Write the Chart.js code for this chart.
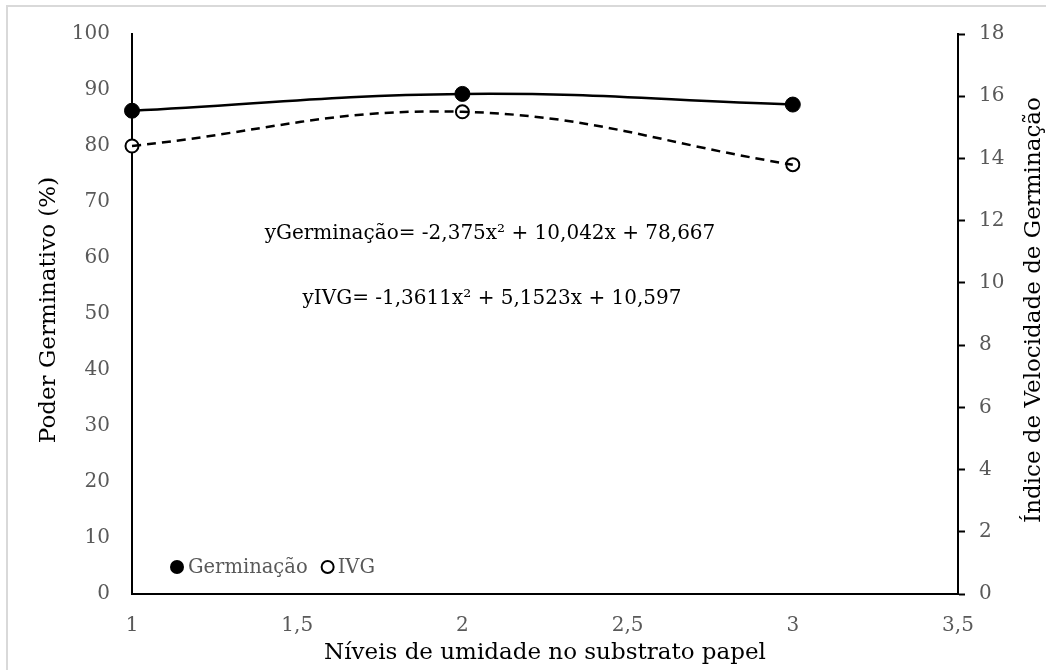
<!DOCTYPE html>
<html><head><meta charset="utf-8">
<script src="https://cdn.jsdelivr.net/npm/chart.js@4.4.1/dist/chart.umd.min.js"></script>
<style>html,body{margin:0;padding:0;background:#fff}#wrap{width:1046px;height:670px}</style>
</head><body><div id="wrap"><canvas id="c" width="1046" height="670"></canvas></div>
<script>
// ---- data ----
const levels = [1, 2, 3];
const germinacao = [86.3, 89.3, 87.4];
const ivg = [14.4, 15.5, 13.8];
const xTickValues = [1, 1.5, 2, 2.5, 3, 3.5];
const xTickLabels = ['1', '1,5', '2', '2,5', '3', '3,5'];
const seriesNames = ['Germinação', 'IVG'];
const xTitle = 'Níveis de umidade no substrato papel';
const yLeftTitle = 'Poder Germinativo (%)';
const yRightTitle = 'Índice de Velocidade de Germinação';
const equations = ['yGerminação= -2,375x² + 10,042x + 78,667', 'yIVG= -1,3611x² + 5,1523x + 10,597'];

const FONT = '"DejaVu Serif", "Liberation Serif", serif';
Chart.defaults.font.family = FONT;

const pts = (ys) => levels.map((x, i) => ({x: x, y: ys[i]}));

const deco = {
  id: 'deco',
  beforeDraw(chart) {
    const ctx = chart.ctx;
    ctx.save();
    ctx.fillStyle = '#fff';
    ctx.fillRect(0, 0, chart.width, chart.height);
    ctx.strokeStyle = '#d9d9d9';
    ctx.lineWidth = 2;
    ctx.strokeRect(7, 6, chart.width + 10, chart.height + 10);
    ctx.restore();
  },
  afterDraw(chart) {
    const ctx = chart.ctx;
    const a = chart.chartArea;
    ctx.save();
    ctx.fillStyle = '#000';
    ctx.textAlign = 'center';
    ctx.textBaseline = 'alphabetic';
    ctx.font = '23px ' + FONT;
    ctx.fillText(xTitle, (a.left + a.right) / 2, 659);
    ctx.save();
    ctx.translate(55, 310);
    ctx.rotate(-Math.PI / 2);
    ctx.fillText(yLeftTitle, 0, 0);
    ctx.restore();
    ctx.save();
    ctx.translate(1040, 310);
    ctx.rotate(-Math.PI / 2);
    ctx.fillText(yRightTitle, 0, 0);
    ctx.restore();
    // equations
    ctx.font = '20px ' + FONT;
    ctx.fillText(equations[0], 490, 239);
    ctx.fillText(equations[1], 492, 304);
    // legend
    ctx.font = '19.5px ' + FONT;
    ctx.textAlign = 'left';
    ctx.textBaseline = 'middle';
    const ly = 567;
    let lx = 177;
    ctx.beginPath(); ctx.arc(lx, ly, 7, 0, Math.PI * 2); ctx.fillStyle = '#000'; ctx.fill();
    ctx.fillStyle = '#595959';
    ctx.fillText(seriesNames[0], lx + 11, ly + 1);
    lx = lx + 11 + ctx.measureText(seriesNames[0]).width + 20;
    ctx.beginPath(); ctx.arc(lx, ly, 6, 0, Math.PI * 2); ctx.fillStyle = '#fff'; ctx.fill();
    ctx.lineWidth = 2; ctx.strokeStyle = '#000'; ctx.stroke();
    ctx.fillStyle = '#595959';
    ctx.fillText(seriesNames[1], lx + 10, ly + 1);
    ctx.restore();
  }
};

new Chart(document.getElementById('c'), {
  type: 'scatter',
  data: {
    datasets: [
      { label: seriesNames[0], data: pts(germinacao), yAxisID: 'y', showLine: false,
        pointRadius: 7.5, pointBackgroundColor: '#000', pointBorderColor: '#000', pointBorderWidth: 1, order: 3, clip: false },
      { label: seriesNames[1], data: pts(ivg), yAxisID: 'y1', showLine: false,
        pointRadius: 6.5, pointBackgroundColor: '#fff', pointBorderColor: '#000', pointBorderWidth: 2, order: 4, clip: false },
      { label: 'trend ' + seriesNames[0], data: pts(germinacao), yAxisID: 'y', showLine: true, tension: 0.4,
        borderColor: '#000', borderWidth: 2.5, pointRadius: 0, fill: false, order: 1, clip: false },
      { label: 'trend ' + seriesNames[1], data: pts(ivg), yAxisID: 'y1', showLine: true, tension: 0.4,
        borderColor: '#000', borderWidth: 2.5, borderDash: [9, 6], pointRadius: 0, fill: false, order: 2, clip: false }
    ]
  },
  options: {
    responsive: false,
    animation: false,
    devicePixelRatio: 1,
    layout: { padding: { top: 29, left: 0, right: 0, bottom: 0 } },
    plugins: { legend: { display: false }, tooltip: { enabled: false } },
    scales: {
      x: {
        type: 'linear', min: 1, max: 3.5,
        afterBuildTicks: (s) => { s.ticks = xTickValues.map(v => ({value: v})); },
        ticks: { color: '#595959', font: { size: 20 }, padding: 20,
          callback: (v) => xTickLabels[xTickValues.indexOf(v)] },
        grid: { display: false, drawTicks: false },
        border: { display: true, color: '#000', width: 2 },
        afterFit: (s) => { s.height = 76; }
      },
      y: {
        position: 'left', min: 0, max: 100,
        ticks: { stepSize: 10, color: '#595959', font: { size: 20 }, padding: 22 },
        grid: { display: false, drawTicks: false },
        border: { display: true, color: '#000', width: 2 },
        afterFit: (s) => { s.width = 132; }
      },
      y1: {
        position: 'right', min: 0, max: 18,
        ticks: { stepSize: 2, color: '#595959', font: { size: 20 }, padding: 14 },
        grid: { display: true, drawOnChartArea: false, drawTicks: true, tickLength: 7, tickColor: '#000', tickWidth: 2 },
        border: { display: true, color: '#000', width: 2 },
        afterFit: (s) => { s.width = 88; }
      }
    }
  },
  plugins: [deco]
});
</script>
</body></html>
